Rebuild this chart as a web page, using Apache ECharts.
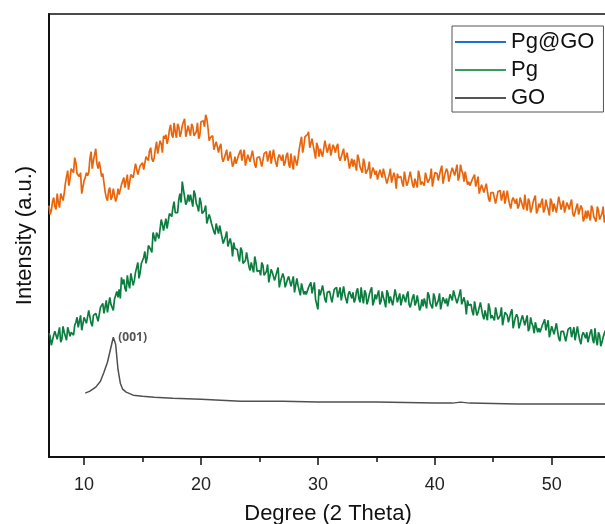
<!DOCTYPE html>
<html>
<head>
<meta charset="utf-8">
<script src="https://cdn.jsdelivr.net/npm/echarts@6/dist/echarts.min.js"></script>
<style>html,body{margin:0;padding:0;background:#fff}#c{width:605px;height:524px}</style>
</head>
<body>
<div id="c"></div>
<script>
// Shared 2-theta grid for Pg@GO and Pg: start 7.0, step 0.1 degrees
const DEG_START = 7.0;
const DEG_STEP = 0.1;
const seriesNames = ['Pg@GO', 'Pg', 'GO'];
const xTickLabels = [10, 20, 30, 40, 50];
const xMinorTicks = [15, 25, 35, 45, 55];

const pgGO = [
  252,243,247,256,260,251,248,264,255,250,264,264,257,264,274,281,287,272,279,289,
  288,285,300,295,284,282,281,285,264,265,277,280,285,282,285,299,306,289,297,303,
  309,294,289,296,289,281,284,283,266,260,257,267,270,258,261,269,268,256,260,269,
  263,263,273,275,280,270,271,283,268,270,283,284,280,280,294,293,283,281,292,294,
  295,288,287,301,303,297,307,310,299,296,300,309,316,304,306,317,314,305,322,319,
  323,314,319,328,333,323,320,335,326,320,334,331,321,325,332,336,339,321,326,332,
  327,322,334,331,322,323,326,335,319,322,336,335,337,331,343,339,330,317,320,321,
  322,308,306,316,311,305,311,314,300,296,294,304,308,297,300,306,304,291,294,301,
  294,293,302,304,308,297,297,308,292,292,303,302,296,295,307,305,293,290,300,301,
  301,302,291,292,304,305,306,296,296,307,294,294,308,300,295,291,300,303,305,297,
  303,292,295,302,305,294,290,304,294,288,302,301,292,299,308,315,321,305,312,321,
  319,323,326,310,311,319,312,306,299,315,311,301,309,307,301,299,317,311,305,306,
  314,302,301,313,310,305,311,314,301,297,295,305,309,297,299,305,303,289,291,299,
  291,298,298,287,303,299,291,289,285,299,294,284,286,289,296,279,281,290,287,283,
  287,278,276,288,288,280,289,291,279,274,276,283,289,275,275,285,280,269,284,280,
  282,281,275,271,286,284,272,275,277,286,284,273,270,279,280,270,287,282,273,276,
  276,272,285,284,275,277,280,289,271,273,285,284,284,277,275,288,292,274,280,285,
  289,286,276,277,286,290,289,282,281,293,277,281,293,287,284,276,286,285,273,276,
  272,270,278,280,283,271,270,281,264,263,273,272,265,263,274,272,259,256,265,266,
  265,266,254,255,266,267,267,257,256,267,254,253,267,259,253,249,257,260,262,254,
  259,249,252,260,262,252,248,263,253,247,259,256,245,249,255,259,262,244,247,254,
  250,255,259,245,248,258,252,248,242,259,256,246,254,252,245,243,261,255,248,249,
  257,245,243,255,252,248,254,258,244,241,239,250,254,243,245,252,249,236,239,247,
  239,247,247,237,252,249,241,240,236,251,247,238,240,244,251,235,237,247,244,241
];

const pg = [
  124,121,112,112,122,126,126,118,118,130,115,118,131,125,124,117,130,130,121,125,
  123,122,132,135,140,130,131,142,127,128,140,139,134,134,147,145,134,131,142,143,
  144,146,136,137,150,152,154,144,145,157,145,145,160,153,150,147,158,162,166,160,
  168,159,180,173,178,169,166,182,174,169,184,182,172,177,185,190,195,179,185,194,
  193,200,206,194,200,212,210,208,205,225,225,216,225,224,219,218,238,233,227,229,
  239,229,230,244,243,241,250,256,245,244,245,258,264,255,276,268,267,253,256,263,
  256,263,262,251,267,263,254,251,246,260,255,244,245,247,252,234,235,243,239,234,
  236,226,223,234,233,224,232,233,220,214,215,221,226,211,210,219,213,201,215,209,
  210,208,201,196,210,207,194,196,197,205,203,191,187,195,196,185,201,195,186,188,
  187,182,195,192,182,183,186,193,175,176,188,185,185,177,175,186,190,170,176,180,
  184,180,170,169,178,181,180,171,170,181,165,167,179,172,170,162,174,173,163,166,
  163,162,170,172,175,164,164,175,158,158,148,168,162,161,172,170,158,155,165,166,
  166,167,155,156,168,169,170,160,159,170,157,157,171,163,158,154,163,166,167,159,
  165,155,158,166,169,159,155,170,160,154,167,164,153,157,163,167,170,152,156,163,
  158,163,167,153,156,166,160,156,150,167,164,154,161,159,152,150,168,162,155,156,
  164,152,151,163,159,155,162,166,153,150,149,160,163,152,155,162,160,147,150,158,
  151,159,159,149,165,162,154,153,149,164,160,151,153,157,164,148,150,160,157,154,
  159,151,150,163,164,157,167,169,158,154,156,163,168,153,152,160,154,143,157,152,
  154,153,146,142,156,154,142,145,146,155,153,142,138,147,147,137,154,149,139,142,
  141,137,150,148,138,140,142,150,132,134,145,143,142,135,133,145,148,129,135,140,
  143,140,129,129,138,142,140,132,130,142,126,129,140,134,131,124,135,135,125,129,
  125,124,132,134,138,127,126,137,120,120,131,130,123,122,134,132,119,116,126,127,
  126,127,116,117,128,129,130,120,119,130,117,117,131,123,117,113,122,125,127,119,
  125,115,117,125,128,118,114,129,118,112,125,122,111,115,120,124,127,109,113,120
];

const goX = [10.1, 10.5, 11.0, 11.4, 11.7, 12.0, 12.3, 12.5, 12.7, 12.9, 13.1, 13.3, 13.6, 14.2, 15, 16, 17.6, 20, 23.4, 27, 30, 35, 40, 41.5, 42.2, 43, 47, 50, 54.8];
const goY = [64, 66, 70, 76, 85, 95, 110, 120, 113, 88, 74, 68, 65, 62, 61, 60, 59, 58, 56, 56, 55, 55, 54, 54, 55, 54, 53, 53, 53];
const peakLabel = '(001)';
const peakAt = [12.5, 120];

const pair = arr => arr.map((v, i) => [+(DEG_START + i * DEG_STEP).toFixed(1), v]);

const chart = echarts.init(document.getElementById('c'), null, {renderer: 'canvas'});
const FONT = '"Liberation Sans", Arial, sans-serif';
chart.setOption({
  animation: false,
  backgroundColor: '#fff',
  grid: {left: 49, right: -2, top: 14, bottom: 67, outerBoundsMode: 'none', containLabel: false, show: true, borderColor: '#111', borderWidth: 1.5, backgroundColor: 'transparent'},
  legend: {
    orient: 'vertical', left: 452, top: 26,
    padding: [5, 9, 3, 3], itemGap: 6,
    itemWidth: 51, itemHeight: 2, icon: 'rect',
    borderColor: '#555', borderWidth: 1, backgroundColor: '#fff',
    textStyle: {fontFamily: FONT, fontSize: 22, color: '#111', lineHeight: 22},
    data: [
      {name: seriesNames[0], itemStyle: {color: '#1f6fd6'}},
      {name: seriesNames[1], itemStyle: {color: '#3a9a60'}},
      {name: seriesNames[2], itemStyle: {color: '#555555'}}
    ]
  },
  xAxis: [{
    type: 'value', min: 7, max: 54.73,
    name: 'Degree (2 Theta)', nameLocation: 'middle', nameGap: 46,
    nameTextStyle: {fontFamily: FONT, fontSize: 22, color: '#111'},
    axisLine: {show: true, lineStyle: {color: '#111', width: 2}},
    axisTick: {show: true, customValues: xTickLabels, length: 8, lineStyle: {color: '#111', width: 1.5}},
    axisLabel: {customValues: xTickLabels, fontFamily: FONT, fontSize: 18, color: '#222', margin: 19},
    splitLine: {show: false}
  }, {
    type: 'value', min: 7, max: 54.73, position: 'bottom',
    axisLine: {show: false},
    axisTick: {show: true, customValues: xMinorTicks, length: 5, lineStyle: {color: '#111', width: 1.5}},
    axisLabel: {show: false},
    splitLine: {show: false}
  }],
  yAxis: {
    type: 'value', min: 0, max: 444,
    name: 'Intensity (a.u.)', nameLocation: 'middle', nameGap: 13,
    nameTextStyle: {fontFamily: FONT, fontSize: 22, color: '#111'},
    axisLine: {show: true, lineStyle: {color: '#111', width: 2}},
    axisTick: {show: false}, axisLabel: {show: false}, splitLine: {show: false}
  },
  series: [
    {name: seriesNames[0], type: 'line', xAxisIndex: 0, data: pair(pgGO), symbol: 'none', lineStyle: {color: '#e8650c', width: 1.7}, itemStyle: {color: '#e8650c'}},
    {name: seriesNames[1], type: 'line', xAxisIndex: 0, data: pair(pg), symbol: 'none', lineStyle: {color: '#0b7d3e', width: 1.7}, itemStyle: {color: '#0b7d3e'}},
    {name: seriesNames[2], type: 'line', xAxisIndex: 0, data: goX.map((x, i) => [x, goY[i]]), symbol: 'none', lineStyle: {color: '#505050', width: 1.5}, itemStyle: {color: '#505050'},
      markPoint: {symbol: 'circle', symbolSize: 0, silent: true,
        label: {show: true, position: 'right', offset: [0, 0], formatter: peakLabel, fontFamily: '"Open Sans", sans-serif', fontWeight: 'bold', fontSize: 12, color: '#555'},
        data: [{coord: peakAt}]}}
  ]
});
</script>
</body>
</html>
